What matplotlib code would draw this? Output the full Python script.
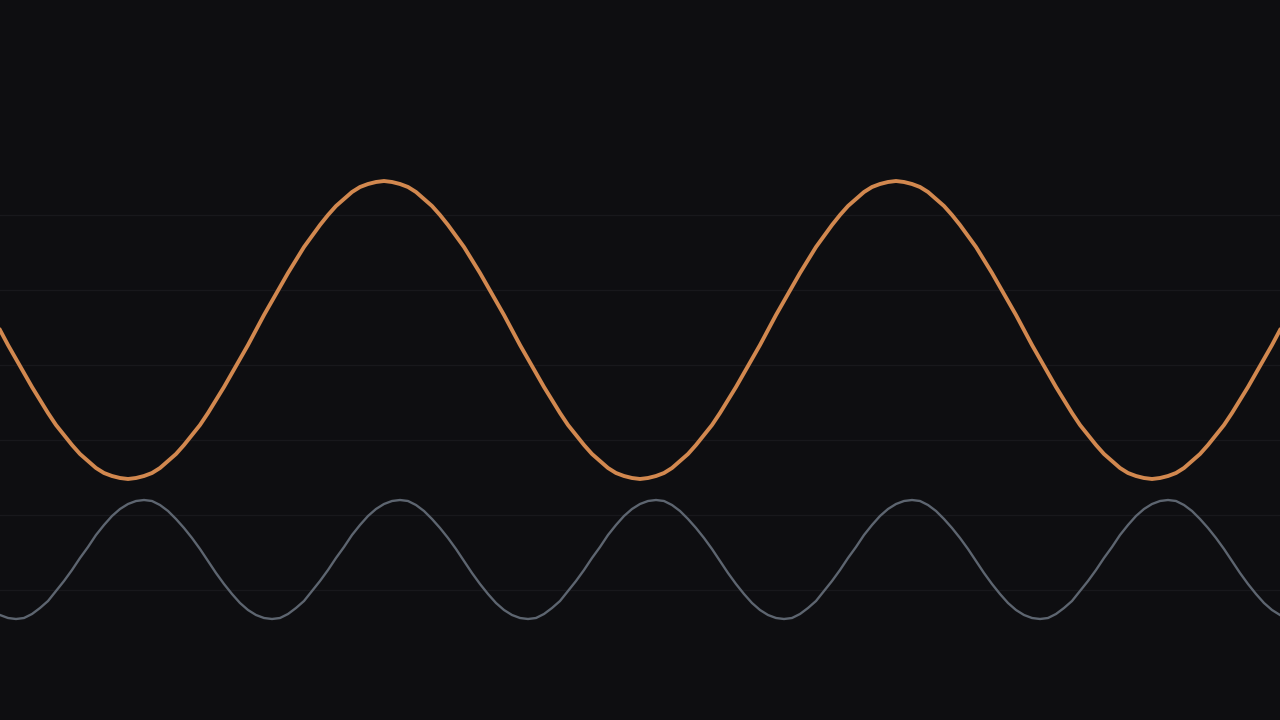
import matplotlib

matplotlib.use("Agg")
import matplotlib.pyplot as plt
import numpy as np

SAMPLE_STEP = 8
ORANGE_WAVE = [
    330, 345, 359, 373, 387, 400, 413, 425, 435, 445, 454, 461, 468, 473, 476, 478,
    479, 478, 476, 473, 468, 461, 454, 445, 435, 425, 413, 400, 387, 373, 359, 345,
    330, 315, 301, 287, 273, 260, 247, 236, 225, 215, 206, 199, 192, 187, 184, 182,
    181, 182, 184, 187, 192, 199, 206, 215, 225, 236, 247, 260, 273, 287, 301, 315,
    330, 345, 359, 373, 387, 400, 413, 425, 435, 445, 454, 461, 468, 473, 476, 478,
    479, 478, 476, 473, 468, 461, 454, 445, 435, 425, 413, 400, 387, 373, 359, 345,
    330, 315, 301, 287, 273, 260, 247, 236, 225, 215, 206, 199, 192, 187, 184, 182,
    181, 182, 184, 187, 192, 199, 206, 215, 225, 236, 247, 260, 273, 287, 301, 315,
    330, 345, 359, 373, 387, 400, 413, 425, 435, 445, 454, 461, 468, 473, 476, 478,
    479, 478, 476, 473, 468, 461, 454, 445, 435, 425, 413, 400, 387, 373, 359, 345,
    330,
]
GRAY_WAVE = [
    615, 618, 619, 618, 614, 608, 601, 591, 581, 570, 558, 547, 535, 525, 516, 509,
    504, 501, 500, 501, 505, 511, 519, 528, 538, 549, 561, 573, 584, 594, 603, 610,
    615, 618, 619, 618, 614, 608, 601, 591, 581, 570, 558, 547, 535, 525, 516, 509,
    504, 501, 500, 501, 505, 511, 519, 528, 538, 549, 561, 573, 584, 594, 603, 610,
    615, 618, 619, 618, 614, 608, 601, 591, 581, 570, 558, 547, 535, 525, 516, 509,
    504, 501, 500, 501, 505, 511, 519, 528, 538, 549, 561, 573, 584, 594, 603, 610,
    615, 618, 619, 618, 614, 608, 601, 591, 581, 570, 558, 547, 535, 525, 516, 509,
    504, 501, 500, 501, 505, 511, 519, 528, 538, 549, 561, 573, 584, 594, 603, 610,
    615, 618, 619, 618, 614, 608, 601, 591, 581, 570, 558, 547, 535, 525, 516, 509,
    504, 501, 500, 501, 505, 511, 519, 528, 538, 549, 561, 573, 584, 594, 603, 610,
    615,
]
GRID_LEVELS = [215, 290, 365, 440, 515, 590]

BG = "#0e0e11"
GRID = "#18181c"
ORANGE = "#d2884f"
GRAY = "#5d6570"


def main() -> None:
    x = np.arange(len(ORANGE_WAVE)) * SAMPLE_STEP

    fig = plt.figure(figsize=(12.8, 7.2), dpi=100, facecolor=BG)
    ax = fig.add_axes([0, 0, 1, 1])
    ax.set_facecolor(BG)

    for level in GRID_LEVELS:
        ax.axhline(level, color=GRID, linewidth=0.9, zorder=0)

    ax.plot(x, GRAY_WAVE, color=GRAY, linewidth=1.7, solid_joinstyle="round")
    ax.plot(x, ORANGE_WAVE, color=ORANGE, linewidth=2.8, solid_joinstyle="round")

    ax.set_xlim(0, 1280)
    ax.set_ylim(720, 0)
    ax.set_xticks([])
    ax.set_yticks([])
    for spine in ax.spines.values():
        spine.set_visible(False)

    fig.savefig("out.png", dpi=100, facecolor=BG)
    plt.close(fig)


if __name__ == "__main__":
    main()
